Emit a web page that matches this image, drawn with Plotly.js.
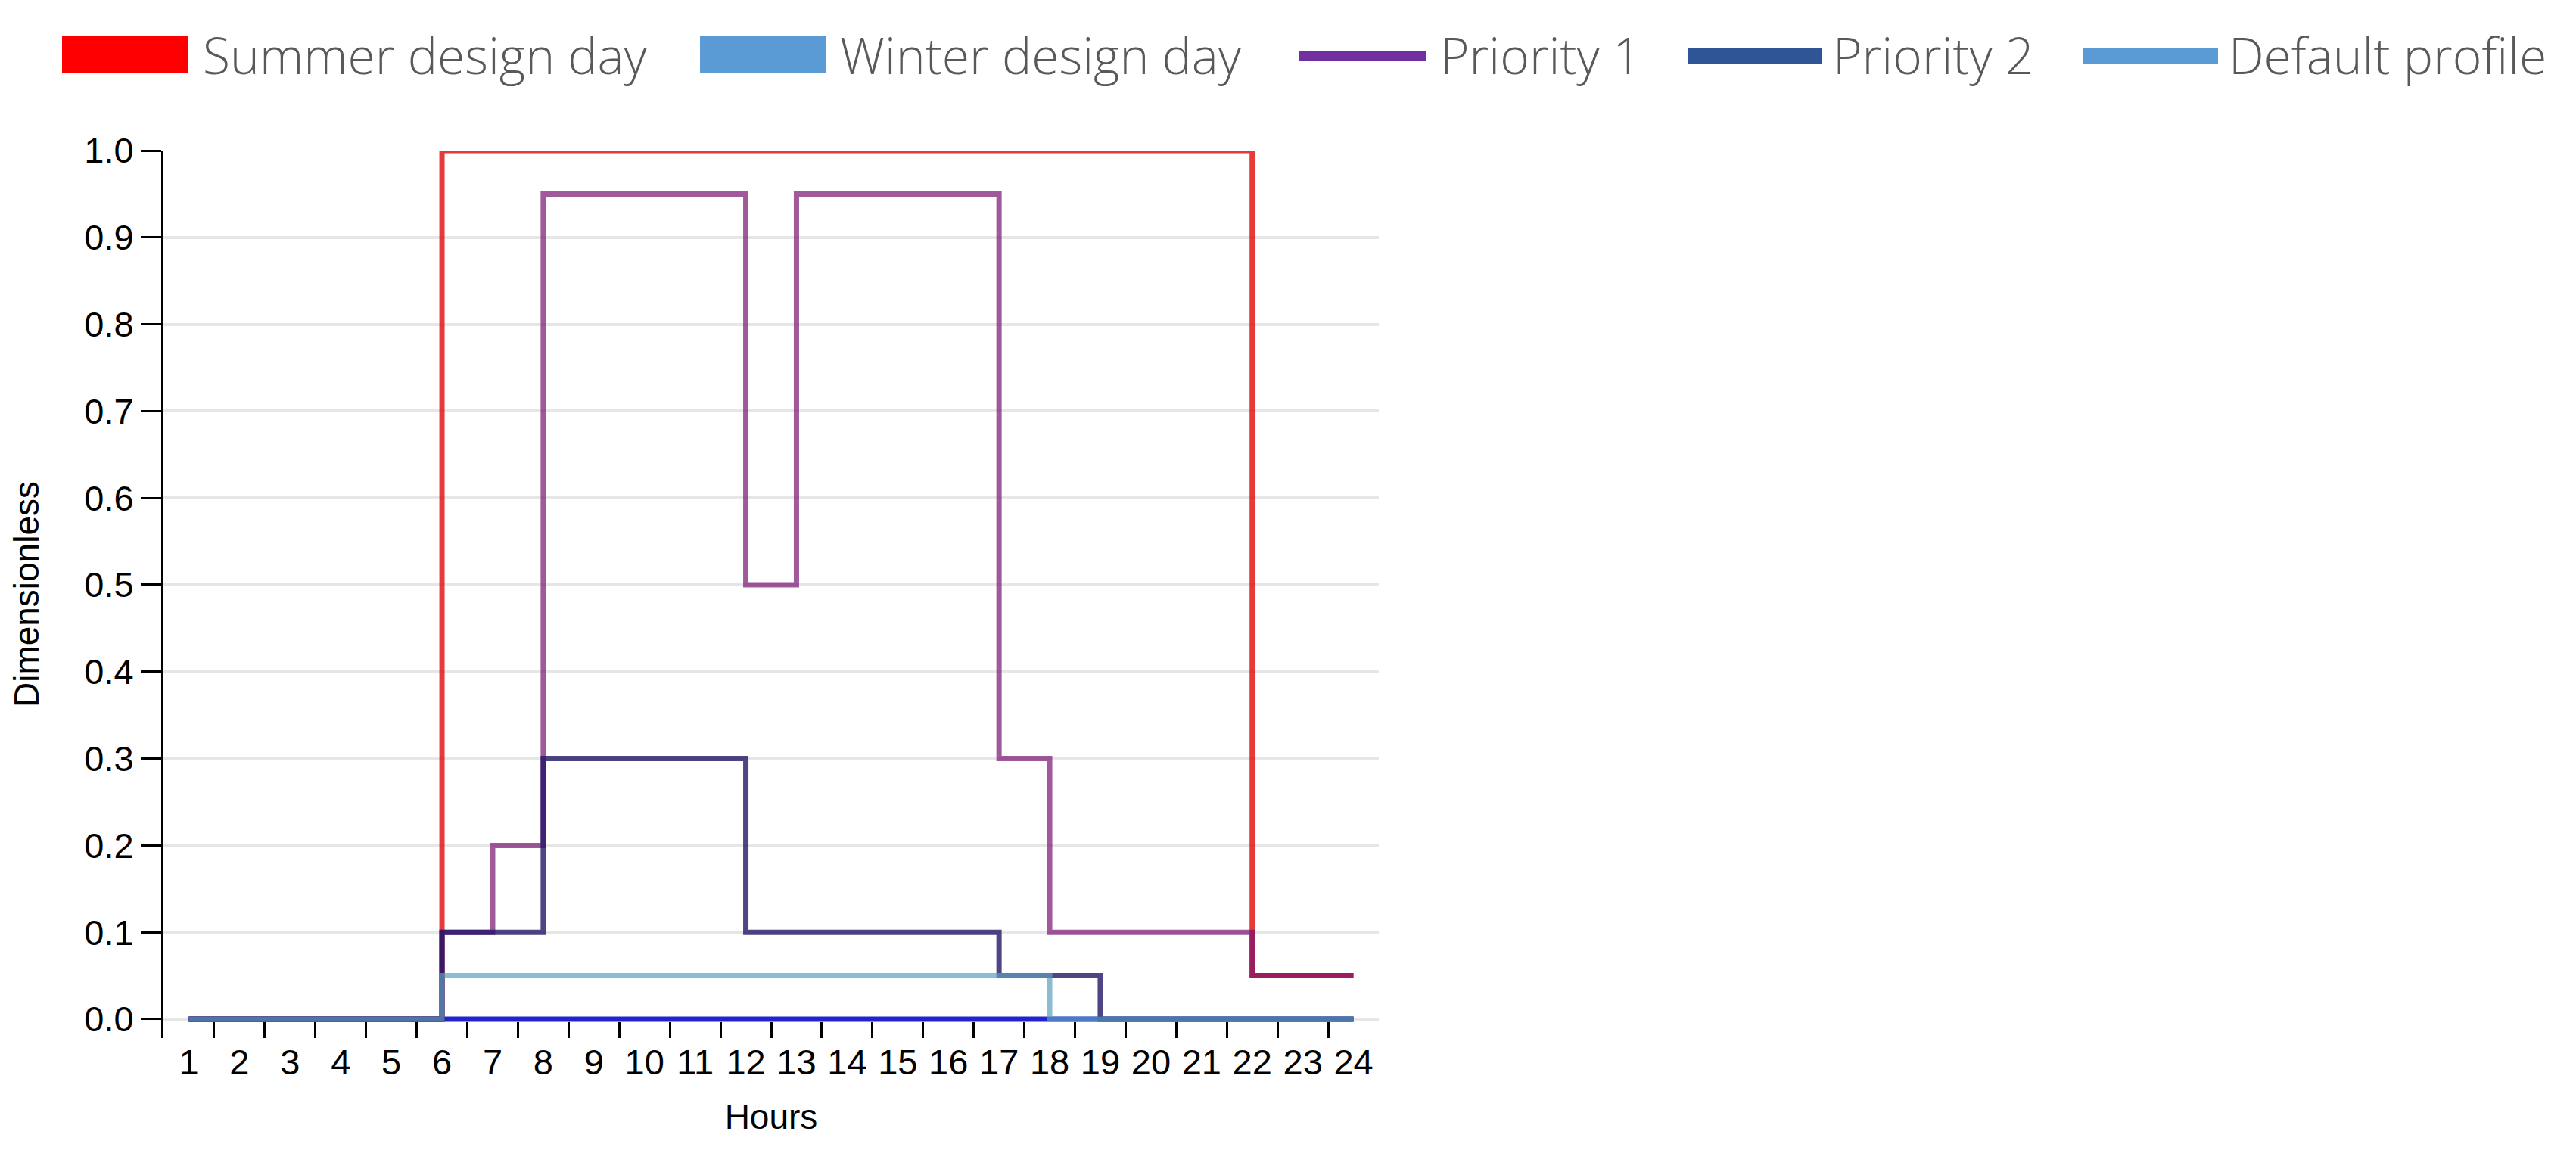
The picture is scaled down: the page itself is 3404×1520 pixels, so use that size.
<!DOCTYPE html>
<html>
<head>
<meta charset="utf-8">
<script src="https://cdn.plot.ly/plotly-3.0.1.min.js"></script>
<style>
  html, body { margin: 0; padding: 0; background: #fff; }
  #chart { width: 3404px; height: 1520px; }
</style>
</head>
<body>
<div id="chart"></div>
<script>
// Hours of the day (category axis)
const hours = ['1','2','3','4','5','6','7','8','9','10','11','12','13','14','15','16','17','18','19','20','21','22','23','24'];

// Schedule values (dimensionless), one per hour
const summerDesignDay = [0,0,0,0,0,1,1,1,1,1,1,1,1,1,1,1,1,1,1,1,1,0.05,0.05,0.05];
const winterDesignDay = [0,0,0,0,0,0,0,0,0,0,0,0,0,0,0,0,0,0,0,0,0,0,0,0];
const priority1 = [0,0,0,0,0,0.1,0.2,0.95,0.95,0.95,0.95,0.5,0.95,0.95,0.95,0.95,0.3,0.1,0.1,0.1,0.1,0.05,0.05,0.05];
const priority2 = [0,0,0,0,0,0.1,0.1,0.3,0.3,0.3,0.3,0.1,0.1,0.1,0.1,0.1,0.05,0.05,0,0,0,0,0,0];
const defaultProfile = [0,0,0,0,0,0.05,0.05,0.05,0.05,0.05,0.05,0.05,0.05,0.05,0.05,0.05,0.05,0,0,0,0,0,0,0];

const legendNames = ['Summer design day', 'Winter design day', 'Priority 1', 'Priority 2', 'Default profile'];

// page geometry
const W = 3404, H = 1520;
const M = { l: 216, r: 3404 - 1822, t: 199, b: 1520 - 1372 };
const PW = W - M.l - M.r, PH = H - M.t - M.b;
const px = x => (x - M.l) / PW;
const py = y => (H - M.b - y) / PH;

function stepLine(name, y, color) {
    return {
        type: 'scatter',
        mode: 'lines',
        name: name,
        x: hours,
        y: y,
        line: { shape: 'hv', color: color, width: 7 },
        showlegend: false,
        hoverinfo: 'skip'
    };
}

const traces = [
    stepLine(legendNames[0], summerDesignDay, 'rgba(222,10,10,0.8)'),
    stepLine(legendNames[1], winterDesignDay, 'rgba(0,0,200,0.85)'),
    stepLine(legendNames[2], priority1, 'rgba(119,19,111,0.7)'),
    stepLine(legendNames[3], priority2, 'rgba(34,22,102,0.8)'),
    stepLine(legendNames[4], defaultProfile, 'rgba(91,159,191,0.7)')
];

// Legend drawn above the plot (boxes for design days, lines for profiles)
const legendSymbols = [
    { kind: 'box',  x0: 82,   x1: 248,  color: '#FF0000', tx: 266 },
    { kind: 'box',  x0: 925,  x1: 1091, color: '#5B9BD5', tx: 1108 },
    { kind: 'line', x0: 1716, x1: 1885, color: '#7030A0', w: 12, tx: 1901 },
    { kind: 'line', x0: 2230, x1: 2407, color: '#2F5597', w: 20, tx: 2420 },
    { kind: 'line', x0: 2752, x1: 2931, color: '#5B9BD5', w: 20, tx: 2943 }
];
const legendY = 72;

const shapes = [];
const annotations = [];
legendSymbols.forEach((s, i) => {
    if (s.kind === 'box') {
        shapes.push({
            type: 'rect', xref: 'paper', yref: 'paper',
            x0: px(s.x0), x1: px(s.x1), y0: py(legendY + 24), y1: py(legendY - 24),
            fillcolor: s.color, line: { width: 0 }
        });
    } else {
        shapes.push({
            type: 'line', xref: 'paper', yref: 'paper',
            x0: px(s.x0), x1: px(s.x1), y0: py(legendY + 2), y1: py(legendY + 2),
            line: { color: s.color, width: s.w }
        });
    }
    annotations.push({
        xref: 'paper', yref: 'paper', x: px(s.tx), y: py(legendY),
        xanchor: 'left', yanchor: 'middle', showarrow: false,
        text: legendNames[i],
        font: { family: 'Open Sans, Noto Sans, sans-serif', size: 66, color: '#595959', weight: 300 }
    });
});

const tickFont = { family: 'Arial, Liberation Sans, sans-serif', size: 47, color: '#000' };
const titleFont = { family: 'Arial, Liberation Sans, sans-serif', size: 46, color: '#000' };

const layout = {
    width: W,
    height: H,
    margin: M,
    paper_bgcolor: '#fff',
    plot_bgcolor: '#fff',
    showlegend: false,
    xaxis: {
        type: 'category',
        range: [-0.5, 23.5],
        tickson: 'boundaries',
        ticks: 'inside',
        ticklen: 21,
        tickwidth: 3,
        tickcolor: '#000',
        showline: false,
        showgrid: false,
        zeroline: false,
        tickfont: tickFont,
        automargin: false,
        title: { text: 'Hours', font: titleFont, standoff: 30 }
    },
    yaxis: {
        range: [-0.0218, 1],
        tick0: 0,
        dtick: 0.1,
        tickformat: '.1f',
        ticks: 'outside',
        ticklen: 27,
        tickwidth: 3,
        tickcolor: '#000',
        showline: true,
        linewidth: 3,
        linecolor: '#000',
        showgrid: true,
        gridcolor: '#E6E6E6',
        gridwidth: 4,
        zeroline: false,
        tickfont: tickFont,
        automargin: false,
        title: { text: 'Dimensionless', font: titleFont, standoff: 46 }
    },
    shapes: shapes,
    annotations: annotations
};

Plotly.newPlot('chart', traces, layout, { staticPlot: true, displayModeBar: false });
</script>
</body>
</html>
